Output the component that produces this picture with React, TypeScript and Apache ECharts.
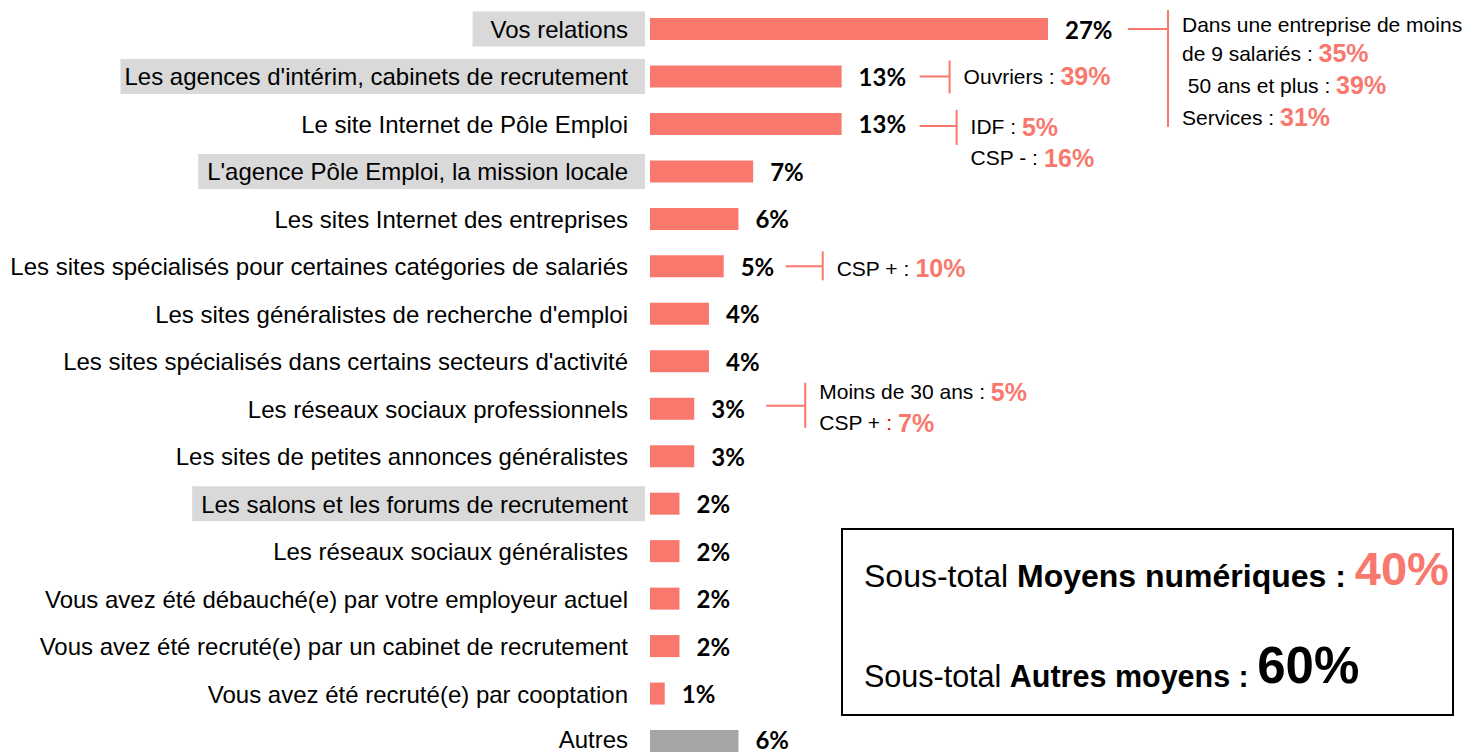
import React, { useEffect, useRef } from "react";
import * as echarts from "echarts";

const categories = [
  "Vos relations",
  "Les agences d'intérim, cabinets de recrutement",
  "Le site Internet de Pôle Emploi",
  "L'agence Pôle Emploi, la mission locale",
  "Les sites Internet des entreprises",
  "Les sites spécialisés pour certaines catégories de salariés",
  "Les sites généralistes de recherche d'emploi",
  "Les sites spécialisés dans certains secteurs d'activité",
  "Les réseaux sociaux professionnels",
  "Les sites de petites annonces généralistes",
  "Les salons et les forums de recrutement",
  "Les réseaux sociaux généralistes",
  "Vous avez été débauché(e) par votre employeur actuel",
  "Vous avez été recruté(e) par un cabinet de recrutement",
  "Vous avez été recruté(e) par cooptation",
  "Autres",
];
const values = [27, 13, 13, 7, 6, 5, 4, 4, 3, 3, 2, 2, 2, 2, 1, 6];
const highlightedRows = [0, 1, 3, 10];
const greyRows = [15];

// annotation rows and their texts: [label, accent label, value]
const noteRows = [0, 1, 2, 5, 8];
const noteTexts: string[][][] = [
  [
    ["Dans une entreprise de moins", "", ""],
    ["de 9 salariés : ", "", "35%"],
    [" 50 ans et plus : ", "", "39%"],
    ["Services : ", "", "31%"],
  ],
  [["Ouvriers : ", "", "39%"]],
  [
    ["IDF : ", "", "5%"],
    ["CSP - : ", "", "16%"],
  ],
  [["CSP + : ", "", "10%"]],
  [
    ["Moins de 30 ans : ", "", "5%"],
    ["CSP + ", ": ", "7%"],
  ],
];
const subtotalPrefix = "Sous-total ";
const subtotalLabels = ["Moyens numériques : ", "Autres moyens : "];
const subtotalValues = ["40%", "60%"];

// layout of annotations (pixels relative to bar end / row centre)
const noteLayout = [
  { gap: 80, stem: 40, lineDy: 0, top: -19, bottom: 98, textDy: [-5, 24, 56, 88] },
  { gap: 78, stem: 30, lineDy: 0, top: -16, bottom: 17, textDy: [0] },
  { gap: 78, stem: 37, lineDy: 2, top: -14, bottom: 21, textDy: [3, 34] },
  { gap: 62, stem: 37, lineDy: 0, top: -15, bottom: 14, textDy: [2] },
  { gap: 72, stem: 39, lineDy: -3, top: -26, bottom: 19, textDy: [-17, 14] },
];
// left padding of each highlighted label box
const hlPadLeft = [18, 4, 9, 9];

const SALMON = "#F8786D";
const GREY_BAR = "#A6A6A6";
const HL = "#D9D9D9";
const SANS = "'Liberation Sans', Arial, sans-serif";
const BOLD_NUM = "Lato, 'Open Sans', sans-serif";

export default function App() {
  const ref = useRef<HTMLDivElement>(null);

  useEffect(() => {
    if (!ref.current) return;
    const chart = echarts.init(ref.current, undefined, { renderer: "svg" });
    const labelBase = {
      fontFamily: SANS,
      fontSize: 24,
      lineHeight: 27,
      color: "#000",
      padding: [6, 17, 5, 18],
    };
    const rich: any = {
      n: { ...labelBase },
      e: { ...labelBase, lineHeight: 22, padding: [0, 17, 4, 18] },
    };
    hlPadLeft.forEach((pl, k) => {
      rich["hl" + k] = { ...labelBase, backgroundColor: HL, padding: [6, 17, 5, pl] };
    });
    const lastRow = categories.length - 1;
    chart.setOption({
      animation: false,
      grid: {
        left: 650,
        top: 5.27,
        width: 737,
        height: 759.5,
        containLabel: false,
        outerBoundsMode: "none",
      },
      xAxis: {
        type: "value",
        min: 0,
        max: 50,
        show: false,
      },
      yAxis: {
        type: "category",
        data: categories,
        inverse: true,
        axisLine: { show: false },
        axisTick: { show: false },
        splitLine: { show: false },
        axisLabel: {
          interval: 0,
          margin: 5,
          formatter: (v: string, i: number) => {
            const h = highlightedRows.indexOf(i);
            if (h >= 0) return `{hl${h}|${v}}`;
            if (i === lastRow) return `{e|${v}}`;
            return `{n|${v}}`;
          },
          rich,
        },
      },
      series: [
        {
          type: "bar",
          barWidth: 22,
          data: values.map((v, i) => ({
            value: v,
            itemStyle: { color: greyRows.includes(i) ? GREY_BAR : SALMON },
            label: i === lastRow ? { offset: [0, -2] } : undefined,
          })),
          label: {
            show: true,
            position: "right",
            distance: 17,
            formatter: "{c}%",
            fontFamily: BOLD_NUM,
            fontWeight: "bold",
            fontSize: 24,
            lineHeight: 22,
            color: "#000",
          },
        },
      ],
    });

    const graphics: any[] = [];
    noteRows.forEach((row, k) => {
      const p = chart.convertToPixel({ gridIndex: 0 }, [values[row], row]) as number[];
      const lay = noteLayout[k];
      const x0 = p[0] + lay.gap;
      const x1 = x0 + lay.stem;
      const y = p[1];
      graphics.push({
        type: "line",
        shape: { x1: x0, y1: y + lay.lineDy, x2: x1, y2: y + lay.lineDy },
        style: { stroke: SALMON, lineWidth: 2 },
      });
      graphics.push({
        type: "line",
        shape: { x1: x1, y1: y + lay.top, x2: x1, y2: y + lay.bottom },
        style: { stroke: SALMON, lineWidth: 2 },
      });
      noteTexts[k].forEach((ln, j) => {
        let s = `{a|${ln[0]}}`;
        if (ln[1]) s += `{c|${ln[1]}}`;
        if (ln[2]) s += `{b|${ln[2]}}`;
        graphics.push({
          type: "text",
          x: x1 + 14,
          y: y + lay.textDy[j],
          style: {
            text: s,
            align: "left",
            verticalAlign: "middle",
            rich: {
              a: { fontFamily: SANS, fontSize: 21, fill: "#000" },
              c: { fontFamily: SANS, fontSize: 21, fill: "#E00000" },
              b: { fontFamily: SANS, fontSize: 25, fontWeight: "bold", fill: SALMON },
            },
          },
        });
      });
    });

    graphics.push({
      type: "rect",
      shape: { x: 842, y: 529, width: 611, height: 186 },
      style: { fill: "#fff", stroke: "#000", lineWidth: 2 },
    });
    const subColors = [SALMON, "#000"];
    const subSizes = [47, 51];
    const textSizes = [32, 30.5];
    const subY = [567, 666];
    subtotalLabels.forEach((lab, i) => {
      graphics.push({
        type: "text",
        x: 864,
        y: subY[i],
        style: {
          text: `{p|${subtotalPrefix}}{l|${lab}}{v|${subtotalValues[i]}}`,
          align: "left",
          verticalAlign: "middle",
          rich: {
            p: { fontFamily: SANS, fontSize: textSizes[i], fill: "#000", verticalAlign: "bottom", lineHeight: 50 },
            l: { fontFamily: SANS, fontSize: textSizes[i], fontWeight: "bold", fill: "#000", verticalAlign: "bottom", lineHeight: 50 },
            v: { fontFamily: SANS, fontSize: subSizes[i], fontWeight: "bold", fill: subColors[i], verticalAlign: "bottom", lineHeight: 50 },
          },
        },
      });
    });

    chart.setOption({ graphic: graphics });
    return () => chart.dispose();
  }, []);

  return (
    <div
      ref={ref}
      style={{ position: "absolute", left: 0, top: 0, width: 1470, height: 753, background: "#fff" }}
    />
  );
}
